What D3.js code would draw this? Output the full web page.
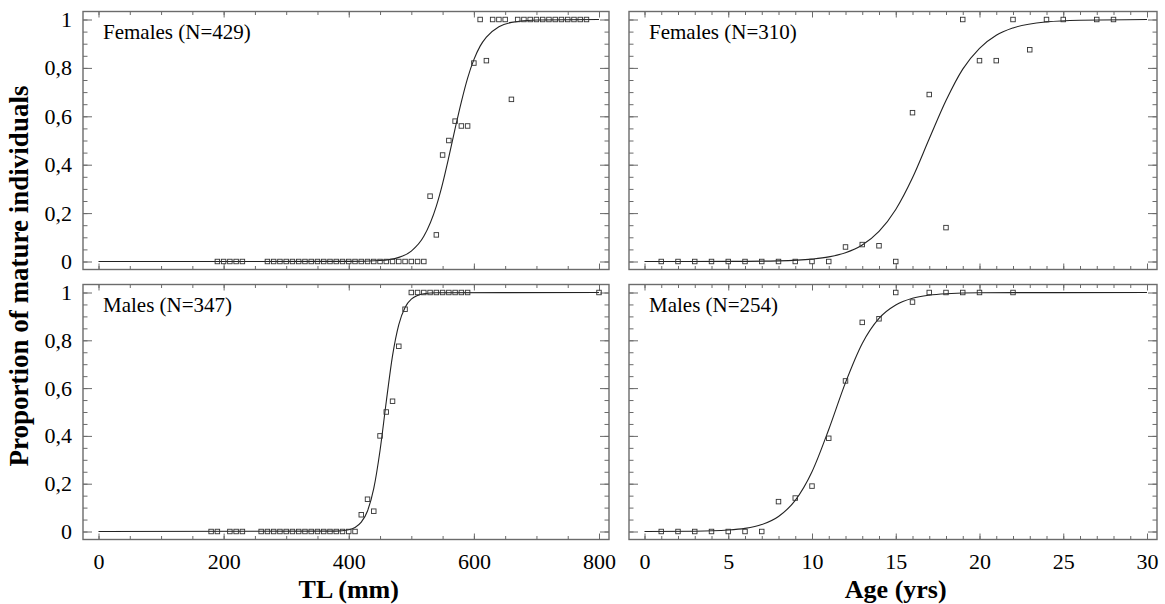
<!DOCTYPE html>
<html>
<head>
<meta charset="utf-8">
<script src="https://cdn.jsdelivr.net/npm/d3@7"></script>
<style>
  body { margin: 0; background: #fff; }
  svg text { font-family: "Liberation Serif", "Times New Roman", serif; fill: #000; }
</style>
</head>
<body>
<div id="chart-area"></div>
<script>
const femTLx = [190,200,210,220,230,270,280,290,300,310,320,330,340,350,360,370,380,390,400,410,420,430,440,450,460,470,480,490,500,510,520,
  530,540,550,560,570,580,590,600,610,620,630,640,650,660,670,680,690,700,710,720,730,740,750,760,770,780]
const femTLp = [0,0,0,0,0,0,0,0,0,0,0,0,0,0,0,0,0,0,0,0,0,0,0,0,0,0,0,0,0,0,0,
  0.27,0.11,0.44,0.50,0.58,0.56,0.56,0.82,1,0.83,1,1,1,0.67,1,1,1,1,1,1,1,1,1,1,1,1]

const femAgex = [1,2,3,4,5,6,7,8,9,10,11,12,13,14,15,16,17,18,19,20,21,22,23,24,25,27,28]
const femAgep = [0,0,0,0,0,0,0,0,0,0,0,0.06,0.07,0.065,0,0.615,0.69,0.14,1,0.83,0.83,1,0.875,1,1,1,1]

const maleTLx = [180,190,210,220,230,260,270,280,290,300,310,320,330,340,350,360,370,380,390,400,410,
  420,430,440,450,460,470,480,490,500,510,520,530,540,550,560,570,580,590,800]
const maleTLp = [0,0,0,0,0,0,0,0,0,0,0,0,0,0,0,0,0,0,0,0,0,
  0.07,0.135,0.085,0.40,0.50,0.545,0.775,0.93,1,1,1,1,1,1,1,1,1,1,1]

const maleAgex = [1,2,3,4,5,6,7,8,9,10,11,12,13,14,15,16,17,18,19,20,22]
const maleAgep = [0,0,0,0,0,0,0,0.125,0.14,0.19,0.39,0.63,0.875,0.89,1,0.96,1,1,1,1,1]

// fitted maturity curves
const femTLcx = [0,400,450,480,500,520,540,550,560,570,580,590,600,610,620,640,660,700,800]
const femTLcp = [0,0.0005,0.004,0.017,0.043,0.104,0.229,0.322,0.432,0.549,0.66,0.758,0.834,0.89,0.927,0.97,0.988,0.998,1]

const femAgecx = [0,5,8,10,11,12,13,14,15,16,17,18,19,20,21,22,24,26,30]
const femAgecp = [0,0.0004,0.0027,0.01,0.019,0.036,0.068,0.124,0.215,0.346,0.507,0.665,0.795,0.881,0.935,0.965,0.99,0.997,1]

const maleTLcx = [0,380,400,410,420,430,440,450,460,470,480,490,500,520,540,800]
const maleTLcp = [0,0.0014,0.0074,0.017,0.039,0.086,0.18,0.339,0.544,0.736,0.866,0.937,0.972,0.995,0.999,1]

const maleAgecx = [0,3,5,6,7,8,9,10,11,12,13,14,15,16,17,18,20,30]
const maleAgecp = [0,0.0012,0.006,0.013,0.029,0.063,0.13,0.25,0.427,0.623,0.787,0.892,0.948,0.976,0.989,0.995,0.999,1]

const panelLabels = ["Females (N=429)", "Females (N=310)", "Males (N=347)", "Males (N=254)"]
const yTicks = [0, 0.2, 0.4, 0.6, 0.8, 1]

const width = 1165
const height = 604
const serif = "'Liberation Serif', 'Times New Roman', serif"

const cols = [{ x0: 83, x1: 609 }, { x0: 629, x1: 1157 }]
const rows = [{ y0: 11.5, y1: 269.5 }, { y0: 284.5, y1: 539.5 }]
const pad = { left: 15.5, right: 10, top: 8, bottom: 8 }

const svg = d3.select("#chart-area").append("svg")
  .attr("width", width)
  .attr("height", height)
  .style("font-family", serif)

const fmt = d => String(d).replace(".", ",")

const panels = [
  { col: 0, row: 0, label: panelLabels[0], domain: [0, 800], minor: 50, major: 200, px: femTLx, pp: femTLp, cx: femTLcx, cp: femTLcp },
  { col: 1, row: 0, label: panelLabels[1], domain: [0, 30], minor: 1, major: 5, px: femAgex, pp: femAgep, cx: femAgecx, cp: femAgecp },
  { col: 0, row: 1, label: panelLabels[2], domain: [0, 800], minor: 50, major: 200, px: maleTLx, pp: maleTLp, cx: maleTLcx, cp: maleTLcp },
  { col: 1, row: 1, label: panelLabels[3], domain: [0, 30], minor: 1, major: 5, px: maleAgex, pp: maleAgep, cx: maleAgecx, cp: maleAgecp },
]

panels.forEach(p => {
  const c = cols[p.col], r = rows[p.row]
  const g = svg.append("g")

  const x = d3.scaleLinear().domain(p.domain).range([c.x0 + pad.left, c.x1 - pad.right])
  const y = d3.scaleLinear().domain([0, 1]).range([r.y1 - pad.bottom, r.y0 + pad.top])

  const xMinor = d3.range(p.domain[0], p.domain[1] + 0.001, p.minor)
  const xMajor = d3.range(p.domain[0], p.domain[1] + 0.001, p.major)
  const yMinor = d3.range(0, 1.001, 0.05).map(v => +v.toFixed(2))

  // frame
  g.append("rect")
    .attr("x", c.x0).attr("y", r.y0)
    .attr("width", c.x1 - c.x0).attr("height", r.y1 - r.y0)
    .attr("fill", "none").attr("stroke", "#6b6b6b").attr("stroke-width", 1.4)

  const tickAxis = (axis, tx, ty, vals, size) => {
    g.append("g")
      .attr("transform", `translate(${tx}, ${ty})`)
      .call(axis.tickValues(vals).tickSize(size).tickFormat(""))
      .call(a => a.select(".domain").remove())
      .call(a => a.selectAll("line").attr("stroke", "#6b6b6b"))
  }
  // inward ticks on all four sides
  tickAxis(d3.axisBottom(x), 0, r.y1, xMinor, -3.5)
  tickAxis(d3.axisBottom(x), 0, r.y1, xMajor, -6)
  tickAxis(d3.axisTop(x), 0, r.y0, xMinor, -3.5)
  tickAxis(d3.axisTop(x), 0, r.y0, xMajor, -6)
  tickAxis(d3.axisLeft(y), c.x0, 0, yMinor, -4.5)
  tickAxis(d3.axisLeft(y), c.x0, 0, yTicks, -9)
  tickAxis(d3.axisRight(y), c.x1, 0, yMinor, -4.5)
  tickAxis(d3.axisRight(y), c.x1, 0, yTicks, -9)

  // labels
  if (p.row === 1) {
    g.append("g")
      .attr("transform", `translate(0, ${r.y1})`)
      .call(d3.axisBottom(x).tickValues(xMajor).tickSize(0).tickPadding(14).tickFormat(fmt))
      .call(a => a.select(".domain").remove())
      .selectAll("text")
      .style("font-family", serif)
      .style("font-size", "22px")
  }
  if (p.col === 0) {
    g.append("g")
      .attr("transform", `translate(${c.x0}, 0)`)
      .call(d3.axisLeft(y).tickValues(yTicks).tickSize(0).tickPadding(11).tickFormat(fmt))
      .call(a => a.select(".domain").remove())
      .selectAll("text")
      .style("font-family", serif)
      .style("font-size", "22px")
  }

  g.append("text")
    .attr("x", c.x0 + 20)
    .attr("y", r.y0 + 27)
    .style("font-family", serif)
    .style("font-size", "21px")
    .text(p.label)

  // fitted curve
  const line = d3.line()
    .x(i => x(p.cx[i]))
    .y(i => y(p.cp[i]))
    .curve(d3.curveMonotoneX)

  g.append("path")
    .attr("d", line(d3.range(p.cx.length)))
    .attr("fill", "none")
    .attr("stroke", "#222")
    .attr("stroke-width", 1.1)

  // observed points
  const s = 4.5
  g.selectAll("rect.pt")
    .data(p.px.map((v, i) => ({ x: v, p: p.pp[i] })))
    .enter().append("rect")
    .attr("class", "pt")
    .attr("x", d => x(d.x) - s / 2)
    .attr("y", d => y(d.p) - s / 2)
    .attr("width", s)
    .attr("height", s)
    .attr("fill", "none")
    .attr("stroke", "#333")
    .attr("stroke-width", 0.9)
})

// axis titles
const title = (tx, ty, txt) => svg.append("text")
  .attr("x", tx)
  .attr("y", ty)
  .attr("text-anchor", "middle")
  .style("font-family", serif)
  .style("font-size", "26px")
  .style("font-weight", "bold")
  .text(txt)

title((cols[0].x0 + pad.left + cols[0].x1 - pad.right) / 2, 598, "TL (mm)")
title((cols[1].x0 + pad.left + cols[1].x1 - pad.right) / 2, 598, "Age (yrs)")
title(-276, 28, "Proportion of mature individuals")
  .attr("transform", "rotate(-90)")
  .style("font-size", "27px")
</script>
</body>
</html>
